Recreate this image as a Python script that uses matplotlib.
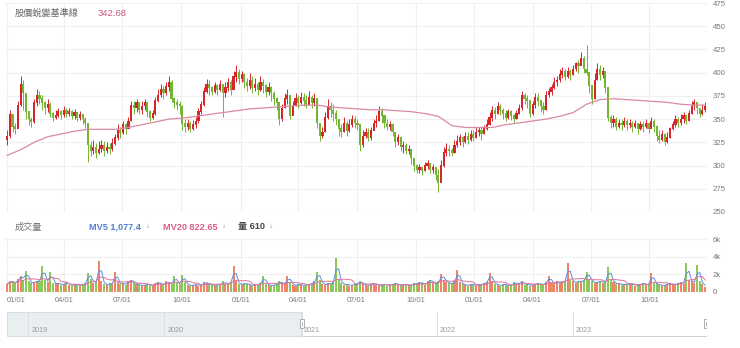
import numpy as np
import pandas as pd
import matplotlib
matplotlib.use("Agg")
import matplotlib.pyplot as plt
import matplotlib.dates as mdates
from matplotlib.patches import Rectangle

# ---------------- data (one candle per three trading days) ----------------
first_open = 328
close = [
    332, 355, 342, 340, 365, 388, 378, 358, 350, 347,
    368, 376, 372, 368, 362, 366, 356, 352, 354, 358,
    355, 360, 356, 358, 354, 357, 352, 355, 350, 346,
    322, 316, 320, 314, 318, 322, 316, 320, 318, 324,
    330, 338, 335, 344, 340, 348, 365, 362, 368, 360,
    364, 368, 358, 352, 356, 370, 376, 382, 378, 385,
    390, 372, 368, 366, 364, 345, 342, 346, 340, 344,
    348, 358, 366, 380, 388, 384, 380, 386, 382, 388,
    378, 384, 390, 382, 396, 400, 394, 398, 390, 386,
    392, 384, 388, 382, 390, 386, 380, 384, 378, 372,
    368, 350, 362, 372, 376, 354, 364, 372, 368, 374,
    370, 366, 374, 368, 372, 346, 332, 336, 352, 364,
    360, 356, 350, 340, 336, 346, 338, 344, 350, 346,
    344, 322, 332, 336, 330, 338, 346, 348, 358, 354,
    346, 342, 344, 336, 326, 330, 320, 322, 316, 318,
    308, 300, 296, 298, 294, 300, 302, 296, 298, 290,
    282, 300, 314, 318, 316, 314, 322, 326, 330, 326,
    332, 328, 334, 330, 336, 338, 334, 340, 344, 352,
    360, 356, 364, 360, 356, 352, 358, 354, 350, 356,
    362, 376, 372, 370, 356, 366, 374, 370, 364, 360,
    376, 380, 384, 390, 392, 398, 402, 396, 402, 398,
    404, 410, 408, 416, 404, 400, 386, 372, 392, 404,
    398, 402, 384, 352, 346, 350, 342, 346, 344, 348,
    344, 346, 342, 346, 340, 344, 342, 346, 340, 348,
    342, 332, 328, 334, 326, 330, 340, 344, 350, 346,
    350, 354, 348, 356, 364, 368, 362, 356, 360, 364,
]
high = [
    338, 360, 350, 346, 370, 396, 392, 368, 356, 352,
    372, 382, 380, 376, 370, 372, 368, 358, 360, 362,
    360, 364, 362, 362, 360, 361, 358, 359, 356, 352,
    345, 326, 328, 324, 326, 328, 326, 325, 324, 330,
    334, 345, 342, 348, 346, 352, 370, 370, 372, 368,
    370, 372, 368, 360, 360, 374, 382, 388, 386, 390,
    396, 392, 374, 372, 370, 365, 350, 350, 348, 349,
    352, 362, 370, 385, 393, 392, 386, 390, 388, 392,
    388, 390, 394, 392, 402, 408, 404, 402, 400, 394,
    400, 396, 394, 390, 396, 393, 388, 390, 386, 380,
    374, 362, 366, 378, 382, 365, 370, 378, 376, 379,
    378, 376, 380, 376, 378, 368, 342, 342, 358, 372,
    368, 366, 360, 348, 345, 352, 348, 350, 354, 353,
    350, 338, 338, 340, 340, 342, 350, 354, 364, 362,
    352, 350, 348, 346, 336, 334, 332, 326, 324, 322,
    316, 306, 302, 302, 300, 304, 306, 302, 302, 298,
    296, 306, 320, 324, 322, 319, 328, 333, 334, 332,
    336, 336, 338, 338, 341, 342, 342, 344, 350, 358,
    364, 363, 368, 366, 362, 360, 361, 360, 356, 360,
    366, 380, 378, 376, 364, 370, 378, 378, 370, 368,
    380, 384, 388, 395, 396, 404, 406, 404, 406, 404,
    408, 412, 414, 422, 418, 430, 396, 380, 400, 410,
    408, 406, 396, 360, 354, 354, 352, 350, 350, 352,
    350, 350, 348, 349, 346, 348, 348, 350, 346, 352,
    350, 344, 338, 338, 335, 336, 342, 348, 354, 352,
    355, 358, 356, 360, 370, 372, 368, 362, 366, 368,
]
low = [
    322, 330, 336, 334, 340, 364, 360, 350, 344, 342,
    346, 364, 366, 360, 356, 358, 352, 348, 350, 352,
    350, 352, 352, 353, 350, 350, 348, 349, 345, 340,
    304, 310, 312, 308, 312, 315, 310, 313, 312, 316,
    322, 328, 330, 334, 334, 340, 352, 356, 358, 355,
    356, 360, 352, 348, 350, 354, 368, 374, 372, 376,
    380, 368, 362, 360, 356, 338, 336, 338, 336, 338,
    340, 346, 356, 364, 378, 376, 376, 378, 376, 380,
    352, 374, 380, 376, 382, 390, 388, 390, 384, 380,
    382, 378, 380, 376, 380, 378, 374, 376, 370, 365,
    360, 344, 348, 362, 366, 350, 354, 364, 362, 366,
    364, 362, 366, 362, 364, 340, 326, 330, 336, 350,
    352, 348, 344, 332, 331, 336, 332, 336, 342, 340,
    338, 316, 320, 330, 326, 328, 340, 342, 348, 346,
    340, 338, 338, 332, 320, 322, 316, 314, 312, 312,
    302, 294, 292, 292, 290, 294, 296, 292, 292, 284,
    272, 282, 298, 310, 310, 310, 314, 320, 322, 320,
    324, 323, 326, 326, 330, 332, 327, 334, 338, 344,
    348, 350, 356, 354, 350, 348, 350, 349, 346, 350,
    356, 360, 366, 362, 352, 354, 362, 364, 358, 356,
    366, 374, 376, 382, 386, 390, 394, 392, 394, 392,
    398, 402, 400, 408, 400, 398, 378, 366, 376, 396,
    392, 394, 378, 348, 340, 342, 338, 340, 338, 342,
    338, 340, 336, 340, 334, 338, 336, 340, 335, 340,
    336, 326, 324, 326, 322, 324, 334, 338, 342, 341,
    344, 346, 345, 348, 356, 360, 356, 352, 354, 358,
]
volume = [
    900, 1300, 1100, 1000, 1500, 1800, 1400, 2400, 1200, 1000,
    1100, 1300, 1200, 2900, 1400, 1100, 2300, 1000, 900, 1000,
    800, 900, 1100, 800, 700, 900, 800, 700, 900, 1000,
    2200, 1500, 1000, 1200, 3500, 1300, 900, 800, 1000, 900,
    2300, 1100, 900, 1000, 800, 1200, 1400, 1000, 900, 800,
    700, 800, 900, 800, 700, 1000, 1100, 900, 800, 1200,
    1000, 900, 1800, 1000, 900, 1900, 1100, 800, 700, 800,
    900, 700, 800, 1100, 1000, 900, 800, 700, 900, 800,
    1200, 900, 1000, 1100, 2900, 1300, 900, 800, 1000, 900,
    800, 700, 900, 800, 1000, 1800, 900, 800, 700, 800,
    900, 1200, 1000, 900, 1800, 1100, 800, 700, 900, 800,
    700, 900, 800, 1000, 1200, 2300, 1400, 900, 800, 1000,
    900, 1100, 3800, 1500, 1000, 800, 900, 700, 800, 900,
    1000, 1200, 900, 800, 700, 900, 1000, 800, 700, 800,
    900, 700, 800, 900, 1000, 800, 700, 900, 800, 700,
    800, 1000, 900, 1100, 1000, 800, 1200, 1400, 1000, 900,
    1200, 2000, 1400, 1100, 1000, 900, 1300, 2500, 1100, 900,
    800, 700, 900, 800, 700, 900, 800, 1000, 1100, 2200,
    1200, 900, 800, 700, 900, 800, 700, 800, 1100, 900,
    1000, 1200, 800, 900, 700, 800, 900, 1000, 800, 900,
    1100, 1800, 1000, 900, 1200, 1000, 1100, 1300, 3300, 1400,
    1200, 1000, 1300, 1100, 1400, 2300, 1500, 1200, 1000, 1100,
    1300, 1000, 1200, 2800, 1500, 1100, 900, 1000, 800, 900,
    800, 1000, 900, 700, 800, 900, 1000, 800, 900, 2200,
    1000, 900, 800, 700, 800, 900, 1000, 800, 900, 1000,
    1100, 900, 3300, 1400, 1200, 1000, 3100, 1300, 900, 610,
]
# baseline sampled every fifth candle, plus the last candle
baseline = [
    311, 317, 325, 331, 334, 337, 339, 339, 339, 341,
    344, 347, 350, 351, 353, 355, 357, 359, 361, 362,
    363, 364, 365, 365, 363, 362, 361, 360, 360, 359,
    358, 356, 353, 343, 341, 341, 341, 344, 346, 348,
    350, 353, 357, 366, 371, 372, 371, 370, 369, 368,
    366, 365, 365,
]
quarter_labels = ["01/01", "04/01", "07/01", "10/01"]
price_ticks = [250, 275, 300, 325, 350, 375, 400, 425, 450, 475]
volume_ticks = [0, 2000, 4000, 6000]
nav_years = [2019, 2020, 2021, 2022, 2023]

title_text = "股價蛻變基準線"
title_value = "342.68"
vol_title = "成交量"
mv5_text = "MV5 1,077.4"
mv20_text = "MV20 822.65"
vol_now_text = "量 610"

# ---------------- derived arrays ----------------
trading_days = pd.bdate_range("2021-01-04", "2023-12-29")
candle_days = trading_days[::3]
N = len(close)
x = np.arange(N)
c = np.array(close, float)
o = np.concatenate([[first_open], c[:-1]])
h = np.maximum(np.array(high, float), np.maximum(o, c))
l = np.minimum(np.array(low, float), np.minimum(o, c))
up = c >= o
v = np.array(volume, float)
mv_short = pd.Series(v).rolling(2, min_periods=1).mean().values
mv_long = pd.Series(v).rolling(7, min_periods=1).mean().values
base_x = list(range(0, N, 5)) + [N - 1]

qstarts = pd.date_range("2021-01-01", "2023-10-01", freq="QS")
qpos = np.searchsorted(trading_days, qstarts) / 3.0
qlab = [quarter_labels[(d.month - 1) // 3] for d in qstarts]

# ---------------- styling ----------------
RED = "#d7262b"
GREEN = "#72b531"
VRED = "#ee8468"
VGREEN = "#8cc85c"
PINK = "#d98aa6"
GRID = "#f0f0f0"
TXT = "#7a7a7a"
NUMF = ["Liberation Sans", "Noto Sans CJK TC", "DejaVu Sans"]
CJKF = ["Noto Sans CJK TC", "DejaVu Sans"]

W, H = 740, 348
fig = plt.figure(figsize=(W / 100, H / 100), dpi=100)
fig.patch.set_facecolor("white")


def px_axes(x0, y0, x1, y1):
    return fig.add_axes([x0 / W, 1 - y1 / H, (x1 - x0) / W, (y1 - y0) / H])


XL = (-0.8, N - 0.3)

# ---------------- price panel ----------------
ax = px_axes(5, 3, 707, 212)
ax.set_xlim(*XL)
ax.set_ylim(250, 475)
for s in ax.spines.values():
    s.set_visible(False)
ax.set_yticks(price_ticks)
ax.yaxis.tick_right()
ax.tick_params(axis="y", length=0, pad=4, labelsize=5.6, labelcolor=TXT)
for t in ax.get_yticklabels():
    t.set_fontfamily(NUMF)
ax.set_xticks(qpos)
ax.tick_params(axis="x", length=0, labelbottom=False)
ax.grid(True, color=GRID, lw=0.8)
ax.set_axisbelow(True)

cols = np.where(up, RED, GREEN)
ax.vlines(x, l, h, colors=cols, lw=0.7, zorder=2)
ax.bar(x, np.abs(c - o) + 0.6, bottom=np.minimum(o, c) - 0.3, width=0.8,
       color=cols, lw=0, zorder=3)
ax.plot(base_x, baseline, color=PINK, lw=0.9, zorder=4)

fig.text(15 / W, 1 - 13 / H, title_text, fontsize=6.6, color="#666666",
         family=CJKF, va="center", ha="left")
fig.text(98 / W, 1 - 13 / H, title_value, fontsize=6.8, color="#c9557f",
         family=NUMF, va="center", ha="left")

# ---------------- volume panel ----------------
av = px_axes(5, 239, 707, 292)
av.set_xlim(*XL)
av.set_ylim(0, 6000)
for s in av.spines.values():
    s.set_visible(False)
av.set_yticks(volume_ticks)
av.set_yticklabels(["0" if t == 0 else f"{t // 1000}k" for t in volume_ticks])
av.yaxis.tick_right()
av.tick_params(axis="y", length=0, pad=4, labelsize=5.6, labelcolor=TXT)
av.set_xticks(qpos)
av.set_xticklabels(qlab)
av.tick_params(axis="x", length=0, pad=3.5, labelsize=5.4, labelcolor=TXT)
for t in av.get_yticklabels() + av.get_xticklabels():
    t.set_fontfamily(NUMF)
av.get_xticklabels()[0].set_horizontalalignment("left")
av.grid(True, color=GRID, lw=0.8)
av.set_axisbelow(True)
av.bar(x, v, width=0.75, color=np.where(up, VRED, VGREEN), lw=0, zorder=2)
av.plot(x, mv_short, color="#5b8ee0", lw=0.7, zorder=3)
av.plot(x, mv_long, color="#e0739c", lw=0.7, zorder=3)

vy = 1 - 227 / H
fig.text(15 / W, vy, vol_title, fontsize=6.6, color="#777777", family=CJKF,
         va="center")
fig.text(89 / W, vy, mv5_text, fontsize=6.6, color="#4f7fd0", family=NUMF,
         va="center", weight="bold")
fig.text(146 / W, vy, "↓", fontsize=6, color="#999999", family=NUMF, va="center")
fig.text(163 / W, vy, mv20_text, fontsize=6.6, color="#d9608c", family=NUMF,
         va="center", weight="bold")
fig.text(222 / W, vy, "↓", fontsize=6, color="#999999", family=NUMF, va="center")
fig.text(238 / W, vy, vol_now_text, fontsize=6.6, color="#444444", family=NUMF,
         va="center", weight="bold")
fig.text(269 / W, vy, "↓", fontsize=6, color="#999999", family=NUMF, va="center")

# ---------------- navigator ----------------
an = px_axes(7, 312, 707, 337)
n0 = mdates.date2num(pd.Timestamp("2018-11-05"))
n1 = mdates.date2num(candle_days[-1]) + 1
sel0 = mdates.date2num(candle_days[0])
an.set_xlim(n0, n1)
an.set_ylim(0, 1)
an.axis("off")
an.add_patch(Rectangle((n0, 0.04), sel0 - n0, 0.95, facecolor="#e9eef1",
                       edgecolor="#d3d9dd", lw=0.6))
an.plot([sel0, n1], [0.04, 0.04], color="#cfcfcf", lw=0.7)
per_px = (n1 - n0) / 700.0
for yr in nav_years:
    xv = mdates.date2num(pd.Timestamp(f"{yr}-01-01"))
    an.plot([xv, xv], [0.04, 0.99], color="#dcdcdc", lw=0.6)
    an.text(xv + 3 * per_px, 0.28, str(yr), fontsize=5.2, color="#999999",
            family=NUMF, va="center", ha="left")
for hx in (sel0, n1 - 1.5 * per_px):
    an.add_patch(Rectangle((hx - 2 * per_px, 0.36), 4 * per_px, 0.36,
                           facecolor="white", edgecolor="#a0a0a0", lw=0.6,
                           zorder=5))
    an.plot([hx, hx], [0.46, 0.62], color="#a0a0a0", lw=0.5, zorder=6)

fig.savefig("out.png", dpi=100, facecolor="white")
